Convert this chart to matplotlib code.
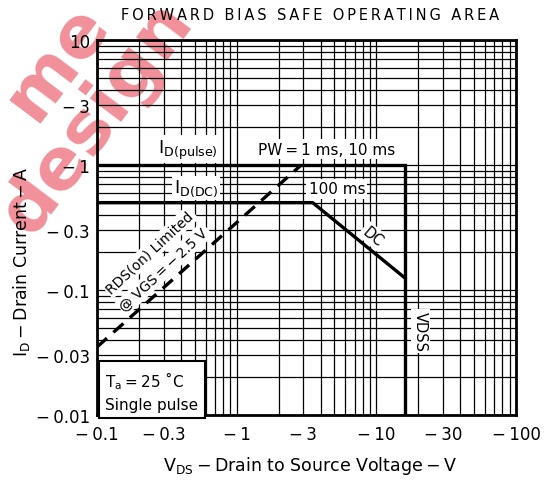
# Forward bias safe operating area (log-log SOA chart, datasheet style)
import matplotlib
matplotlib.use("Agg")
import matplotlib.pyplot as plt
from matplotlib.ticker import FixedLocator, FixedFormatter, NullFormatter

# limits
ID_PULSE = 1.0      # A
ID_DC = 0.5         # A
VDSS = 16.0         # V

pulse_v = [0.1, VDSS, VDSS]
pulse_i = [ID_PULSE, ID_PULSE, 0.01]

dc_v = [0.1, 3.5, VDSS]
dc_i = [ID_DC, ID_DC, 0.125]

rds_v = [0.1, 2.9]
rds_i = [0.035, 1.0]

x_ticks = [0.1, 0.3, 1, 3, 10, 30, 100]
x_labels = ["\u2212\u20090.1", "\u2212\u20090.3", "\u2212\u20091", "\u2212\u20093",
            "\u2212\u200910", "\u2212\u200930", "\u2212\u2009100"]
y_ticks = [0.01, 0.03, 0.1, 0.3, 1, 3, 10]
y_labels = ["\u2212\u20090.01", "\u2212\u20090.03", "\u2212\u20090.1", "\u2212\u20090.3",
            "\u2212\u20091", "\u2212\u20093", "10"]
minor = [m * 10.0 ** e for e in (-2, -1, 0, 1) for m in range(2, 10)]

W, H = 547, 481
fig = plt.figure(figsize=(W / 100, H / 100), dpi=100)
ax = fig.add_axes([97 / W, 1 - 416 / H, (516 - 97) / W, (416 - 41) / H])
ax.patch.set_alpha(0)

# watermark sitting behind the grid (it runs off the page in the original too)
wm = dict(color="#ee7480", fontsize=52, fontweight="heavy", rotation=53,
          ha="center", va="center", rotation_mode="anchor", zorder=-5, alpha=0.8)
fig.text(57 / W, 1 - 62 / H, "me", **wm)
fig.text(97 / W, 1 - 118 / H, "design", **wm)

ax.set_xscale("log")
ax.set_yscale("log")
ax.set_xlim(0.1, 100)
ax.set_ylim(0.01, 10)

ax.xaxis.set_major_locator(FixedLocator(x_ticks))
ax.xaxis.set_major_formatter(FixedFormatter(x_labels))
ax.xaxis.set_minor_locator(FixedLocator(minor))
ax.xaxis.set_minor_formatter(NullFormatter())
ax.yaxis.set_major_locator(FixedLocator(y_ticks))
ax.yaxis.set_major_formatter(FixedFormatter(y_labels))
ax.yaxis.set_minor_locator(FixedLocator(minor))
ax.yaxis.set_minor_formatter(NullFormatter())
ax.tick_params(which="both", length=0, labelsize=12, colors="black")
ax.tick_params(axis="x", pad=7)
ax.tick_params(axis="y", pad=5)

ax.grid(True, which="both", color="black", lw=0.9)
for s in ax.spines.values():
    s.set_linewidth(2)

ax.plot(pulse_v, pulse_i, color="black", lw=2.4, solid_joinstyle="miter", zorder=4)
ax.plot(dc_v, dc_i, color="black", lw=2.4, zorder=4)
ax.plot(rds_v, rds_i, color="black", lw=2.4, linestyle=(0, (4, 2.6)), zorder=4)

box = dict(facecolor="white", edgecolor="none", pad=1.5)
ax.text(0.448, 1.34, "I$_{\\mathregular{D(pulse)}}$", fontsize=13, ha="center", va="center", bbox=box, zorder=5)
ax.text(0.511, 0.655, "I$_{\\mathregular{D(DC)}}$", fontsize=13, ha="center", va="center", bbox=box, zorder=5)
ax.text(4.43, 1.34, "PW\u2009=\u20091 ms, 10 ms", fontsize=11, ha="center", va="center", bbox=box, zorder=5)
ax.text(5.22, 0.643, "100 ms", fontsize=11, ha="center", va="center", bbox=box, zorder=5)
ax.text(9.46, 0.27, "DC", fontsize=10.5, rotation=-40, ha="center", va="center", bbox=box, zorder=5)
ax.text(20.8, 0.047, "VDSS", fontsize=10.5, rotation=-90, ha="center", va="center", bbox=box, zorder=5)
ax.text(0.239, 0.201, "RDS(on) Limited", fontsize=10, rotation=43, ha="center", va="center",
        rotation_mode="anchor", bbox=box, zorder=5)
ax.text(0.302, 0.147, "@ VGS\u2009=\u2009\u2212\u20092.5 V", fontsize=10, rotation=43, ha="center",
        va="center", rotation_mode="anchor", bbox=box, zorder=5)
ax.text(0.115, 0.0158, "T$_{\\mathregular{a}}$\u2009=\u200925 \u02daC\nSingle pulse", fontsize=11,
        ha="left", va="center", linespacing=1.5,
        bbox=dict(facecolor="white", edgecolor="black", lw=1.5, pad=4.5), zorder=5)

fig.text(310 / W, 1 - 15.5 / H, "\u2009".join("FORWARD BIAS SAFE OPERATING AREA"),
         fontsize=10.5, ha="center", va="center")
fig.text(22 / W, 1 - 262 / H, "I$_{\\mathregular{D}}$\u2009\u2212\u2009Drain Current\u2009\u2212\u2009A",
         fontsize=12.5, rotation=90, ha="center", va="center")
fig.text(310 / W, 1 - 466 / H, "V$_{\\mathregular{DS}}$\u2009\u2212\u2009Drain to Source Voltage\u2009\u2212\u2009V",
         fontsize=12.5, ha="center", va="center")

fig.savefig("out.png", dpi=100)
